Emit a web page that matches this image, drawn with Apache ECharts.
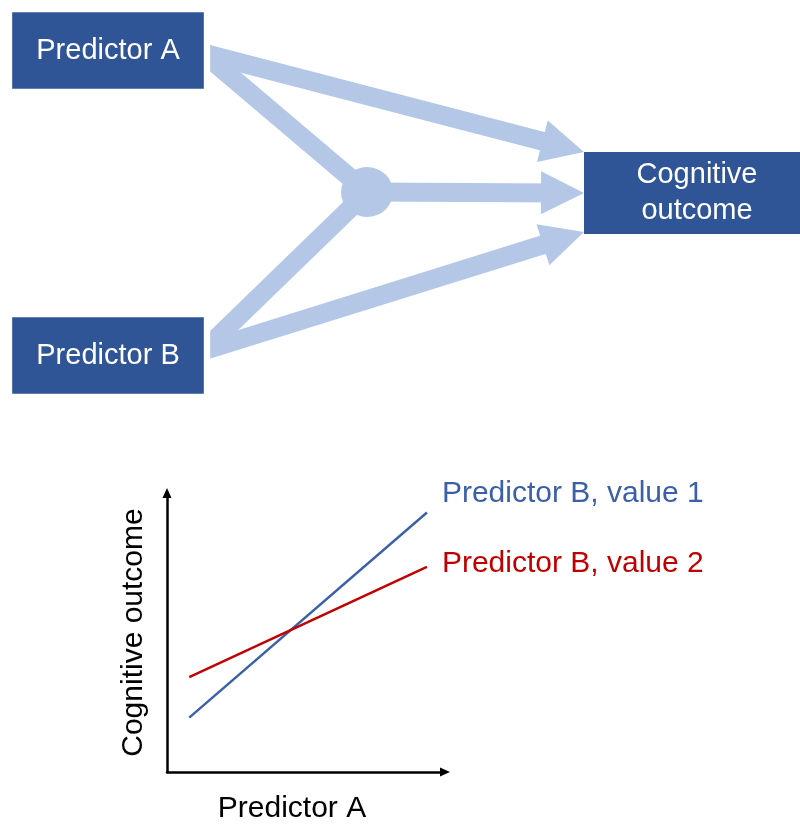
<!DOCTYPE html>
<html>
<head>
<meta charset="utf-8">
<script src="https://cdn.jsdelivr.net/npm/echarts@6/dist/echarts.min.js"></script>
<style>
  html, body { margin: 0; padding: 0; background: #fff; }
  #main { width: 800px; height: 826px; }
</style>
</head>
<body>
<div id="main"></div>
<script>
// diagram: boxes, joints and arrows
const boxNames = ['Predictor A', 'Predictor B', 'Cognitive\noutcome'];
const arrowLinks = [['pA', 'tip1'], ['hub', 'tip2'], ['pB', 'tip3']];
const plainLinks = [['pA', 'hub'], ['pB', 'hub']];

// interaction plot
const predictorA = [8, 93.5];
const valueB1 = [19.5, 93];
const valueB2 = [34, 73.5];
const seriesNames = ['Predictor B, value 1', 'Predictor B, value 2'];

const FONT = '"Liberation Sans", Arial, sans-serif';
const DARK = '#2f5597';
const LIGHT = '#b4c7e7';
const BLUE = '#3b60a8';
const RED = '#c00000';
const HEAD = 43;

// layout of the diagram, in pixels
const pos = {
    'Predictor A': [108, 50.5],
    'Predictor B': [108, 355.5],
    'Cognitive\noutcome': [697, 193],
    pA: [203, 53],
    pB: [203, 351],
    hub: [367, 192]
};
const tips = { tip1: [584, 152], tip2: [584, 193], tip3: [584, 232] };
const tipFrom = { tip1: 'pA', tip2: 'hub', tip3: 'pB' };
// the triangle is centred on the line end, so pull the end back by half a head
Object.keys(tips).forEach(function (k) {
    const t = tips[k], f = pos[tipFrom[k]];
    const dx = t[0] - f[0], dy = t[1] - f[1];
    const len = Math.sqrt(dx * dx + dy * dy);
    pos[k] = [t[0] - dx / len * HEAD / 2, t[1] - dy / len * HEAD / 2];
});

const nodes = [];
boxNames.forEach(function (name, i) {
    const outer = i < 2;
    nodes.push({
        name: name,
        value: pos[name],
        symbol: 'rect',
        symbolSize: outer ? [198, 79] : [226, 82],
        itemStyle: outer ? { color: DARK, borderColor: '#fff', borderWidth: 4 } : { color: DARK },
        label: {
            show: true, position: 'inside', color: '#fff',
            fontSize: 29, fontFamily: FONT, lineHeight: 36
        }
    });
});
['pA', 'pB', 'tip1', 'tip2', 'tip3'].forEach(function (name) {
    nodes.push({ name: name, value: pos[name], symbolSize: 0, label: { show: false } });
});
nodes.push({ name: 'hub', value: pos.hub, symbol: 'circle', symbolSize: [52, 50], itemStyle: { color: LIGHT }, label: { show: false } });

const links = [];
plainLinks.forEach(function (l) {
    links.push({ source: l[0], target: l[1], symbol: ['none', 'none'] });
});
arrowLinks.forEach(function (l) {
    links.push({ source: l[0], target: l[1] });
});

const chart = echarts.init(document.getElementById('main'));
const option = {
    animation: false,
    backgroundColor: '#fff',
    grid: [
        { left: 0, top: 0, right: 0, bottom: 0 },
        { left: 167, top: 493, right: 355, bottom: 54 }
    ],
    xAxis: [
        { gridIndex: 0, type: 'value', min: 0, max: 800, show: false },
        {
            gridIndex: 1, type: 'value', min: 0, max: 100,
            name: 'Predictor A', nameLocation: 'middle', nameGap: 22,
            nameTextStyle: { fontSize: 30, fontFamily: FONT, color: '#000', padding: [0, 28, 0, 0] },
            axisLine: { show: true, symbol: ['none', 'triangle'], symbolSize: [9, 10], lineStyle: { color: '#000', width: 2.5 } },
            axisTick: { show: false }, axisLabel: { show: false }, splitLine: { show: false }
        }
    ],
    yAxis: [
        { gridIndex: 0, type: 'value', min: 0, max: 826, inverse: true, show: false },
        {
            gridIndex: 1, type: 'value', min: 0, max: 100,
            name: 'Cognitive outcome', nameLocation: 'middle', nameGap: 18, nameRotate: 90,
            nameTextStyle: { fontSize: 30, fontFamily: FONT, color: '#000' },
            axisLine: { show: true, symbol: ['none', 'triangle'], symbolSize: [9, 10], lineStyle: { color: '#000', width: 2.5 } },
            axisTick: { show: false }, axisLabel: { show: false }, splitLine: { show: false }
        }
    ],
    series: [
        {
            type: 'graph',
            coordinateSystem: 'cartesian2d',
            xAxisIndex: 0,
            yAxisIndex: 0,
            silent: true,
            edgeSymbol: ['none', 'triangle'],
            edgeSymbolSize: [0, HEAD],
            lineStyle: { color: LIGHT, width: 19, opacity: 1, curveness: 0 },
            data: nodes,
            links: links
        },
        {
            name: seriesNames[0],
            type: 'line',
            xAxisIndex: 1,
            yAxisIndex: 1,
            silent: true,
            symbol: 'none',
            data: predictorA.map(function (x, i) { return [x, valueB1[i]]; }),
            lineStyle: { color: BLUE, width: 2.4 },
            endLabel: {
                show: true, formatter: '{a}', color: BLUE, fontSize: 30, fontFamily: FONT,
                distance: 15, offset: [0, -19]
            }
        },
        {
            name: seriesNames[1],
            type: 'line',
            xAxisIndex: 1,
            yAxisIndex: 1,
            silent: true,
            symbol: 'none',
            data: predictorA.map(function (x, i) { return [x, valueB2[i]]; }),
            lineStyle: { color: RED, width: 2.4 },
            endLabel: {
                show: true, formatter: '{a}', color: RED, fontSize: 30, fontFamily: FONT,
                distance: 15, offset: [0, -3]
            }
        }
    ]
};
option && chart.setOption(option);
</script>
</body>
</html>
